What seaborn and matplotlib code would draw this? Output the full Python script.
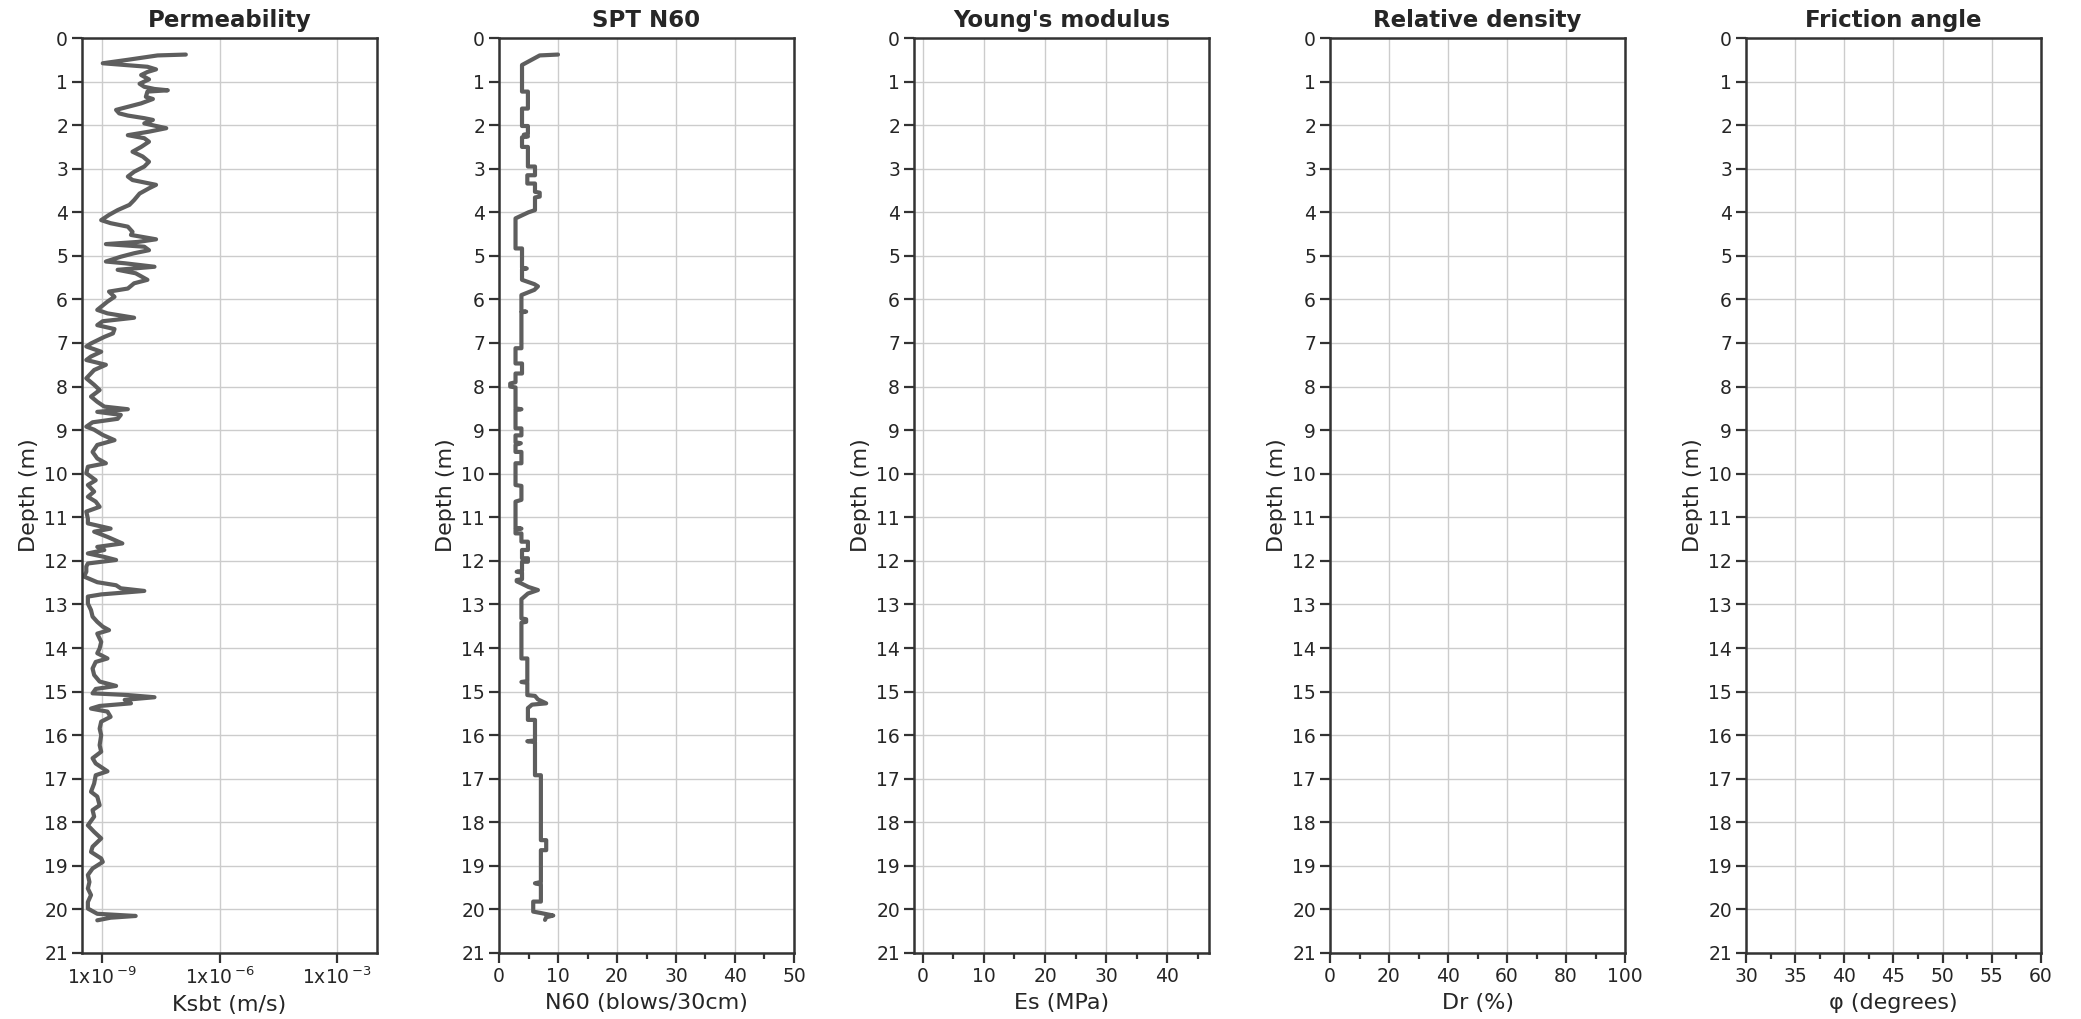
import numpy as np
import pandas as pd
import matplotlib
matplotlib.use("Agg")
import matplotlib.pyplot as plt
import seaborn as sns
from matplotlib.ticker import FixedLocator, NullLocator, MultipleLocator

# ---------------- data ----------------
perm_depth = [0.38, 0.40, 0.50, 0.58, 0.62, 0.66, 0.72, 0.78, 0.85, 0.95, 1.05, 1.12, 1.17, 1.20, 1.23,
              1.35, 1.40, 1.50, 1.65, 1.73, 1.78, 1.84, 1.88, 1.96, 2.07, 2.15, 2.23, 2.30, 2.38, 2.50,
              2.61, 2.72, 2.84, 2.95, 3.07, 3.18, 3.26, 3.37, 3.45, 3.57, 3.72, 3.83, 3.95, 4.06, 4.18,
              4.25, 4.33, 4.45, 4.52, 4.62, 4.68, 4.73, 4.79, 4.87, 4.94, 5.02, 5.13, 5.17, 5.25, 5.32,
              5.40, 5.55, 5.63, 5.75, 5.82, 5.94, 6.05, 6.24, 6.32, 6.42, 6.50, 6.59, 6.68, 6.78, 6.86,
              7.01, 7.08, 7.20, 7.31, 7.39, 7.50, 7.62, 7.81, 7.96, 8.08, 8.23, 8.35, 8.46, 8.52, 8.58,
              8.65, 8.74, 8.82, 8.92, 8.99, 9.11, 9.23, 9.34, 9.50, 9.65, 9.76, 9.84, 9.99, 10.15, 10.26,
              10.41, 10.53, 10.64, 10.76, 10.87, 11.03, 11.14, 11.26, 11.33, 11.45, 11.52, 11.60, 11.68, 11.75, 11.83,
              11.91, 11.98, 12.06, 12.13, 12.25, 12.36, 12.49, 12.56, 12.63, 12.69, 12.72, 12.77, 12.82, 12.98, 13.13,
              13.28, 13.40, 13.51, 13.59, 13.67, 13.86, 14.01, 14.12, 14.24, 14.32, 14.47, 14.62, 14.77, 14.87, 14.94,
              15.04, 15.08, 15.13, 15.19, 15.27, 15.33, 15.39, 15.46, 15.58, 15.69, 15.85, 16.00, 16.23, 16.38, 16.53,
              16.65, 16.83, 16.92, 17.11, 17.30, 17.41, 17.61, 17.72, 17.87, 18.07, 18.22, 18.37, 18.56, 18.68, 18.83,
              18.91, 19.06, 19.21, 19.37, 19.52, 19.67, 19.83, 19.98, 20.10, 20.15, 20.19, 20.25]
perm_log10_ksbt = [-6.86, -7.58, -8.34, -8.98, -8.42, -7.84, -7.62, -7.84, -8.00, -7.80, -8.04, -7.92, -7.66, -7.32, -7.84,
                   -7.88, -7.70, -8.00, -8.64, -8.56, -8.34, -7.92, -7.70, -7.92, -7.36, -7.80, -8.34, -7.92, -7.80, -8.00,
                   -8.22, -7.96, -7.80, -7.92, -8.18, -8.34, -8.22, -7.62, -7.80, -8.04, -8.18, -8.30, -8.60, -8.82, -9.02,
                   -8.78, -8.34, -8.22, -8.26, -7.62, -8.08, -8.90, -7.92, -7.80, -8.18, -8.52, -8.90, -8.42, -7.66, -8.60,
                   -8.14, -7.84, -8.18, -8.34, -8.82, -8.68, -8.86, -9.12, -8.86, -8.18, -8.98, -9.12, -8.68, -8.72, -8.94,
                   -9.28, -9.40, -9.02, -9.28, -9.40, -8.90, -9.20, -9.40, -9.20, -9.06, -9.28, -9.12, -8.94, -8.34, -9.12,
                   -8.52, -8.60, -9.24, -9.40, -9.20, -8.98, -8.68, -9.12, -9.24, -9.12, -8.90, -9.36, -9.40, -9.16, -9.36,
                   -9.20, -9.36, -9.16, -9.06, -9.40, -9.36, -9.36, -8.78, -9.20, -8.86, -8.68, -8.48, -9.12, -8.94, -9.36,
                   -8.94, -8.64, -9.36, -9.40, -9.40, -9.46, -9.12, -8.64, -8.52, -7.92, -8.34, -9.02, -9.36, -9.36, -9.28,
                   -9.24, -9.12, -8.98, -8.82, -9.12, -9.02, -9.06, -9.12, -8.86, -9.16, -9.24, -9.20, -9.06, -8.64, -9.16,
                   -9.24, -8.34, -7.66, -8.42, -8.26, -9.06, -9.28, -8.86, -8.78, -9.02, -9.06, -9.02, -9.06, -9.02, -9.24,
                   -9.16, -8.86, -9.16, -9.20, -9.28, -9.12, -9.06, -9.24, -9.20, -9.36, -9.20, -9.02, -9.24, -9.28, -9.02,
                   -8.98, -9.24, -9.36, -9.32, -9.36, -9.28, -9.36, -9.36, -9.12, -8.14, -8.78, -9.12]

spt_depth = [0.38, 0.40, 0.62, 1.23, 1.23, 1.62, 1.62, 2.02, 2.02, 2.20, 2.22, 2.26, 2.28, 2.50, 2.50,
             2.95, 2.95, 3.15, 3.15, 3.34, 3.34, 3.53, 3.55, 3.64, 3.66, 3.95, 4.00, 4.14, 4.83, 4.83,
             5.27, 5.29, 5.31, 5.55, 5.65, 5.70, 5.78, 5.85, 5.90, 6.27, 6.28, 6.30, 7.12, 7.12, 7.47,
             7.47, 7.70, 7.70, 7.90, 7.93, 8.00, 8.02, 8.50, 8.52, 8.54, 8.96, 8.96, 9.12, 9.12, 9.28,
             9.30, 9.34, 9.50, 9.50, 9.76, 9.76, 10.26, 10.28, 10.60, 10.64, 11.24, 11.26, 11.28, 11.37, 11.37,
             11.56, 11.56, 11.75, 11.75, 11.94, 11.94, 12.02, 12.02, 12.23, 12.25, 12.27, 12.42, 12.44, 12.47, 12.52,
             12.60, 12.67, 12.75, 12.88, 13.32, 13.34, 13.40, 13.42, 14.24, 14.24, 14.76, 14.78, 14.80, 15.08, 15.10,
             15.18, 15.27, 15.30, 15.38, 15.65, 15.65, 16.12, 16.14, 16.16, 16.92, 16.92, 18.41, 18.41, 18.64, 18.64,
             19.37, 19.40, 19.43, 19.82, 19.82, 20.05, 20.08, 20.14, 20.18, 20.24]
spt_n60 = [10.0, 6.9, 3.9, 3.9, 4.9, 4.9, 3.9, 3.9, 4.9, 4.9, 4.2, 4.9, 3.9, 3.9, 4.9,
           4.9, 6.1, 6.1, 4.8, 4.8, 6.1, 6.1, 6.9, 6.9, 6.1, 6.1, 5.0, 2.8, 2.8, 3.9,
           3.9, 4.7, 3.9, 3.9, 6.0, 6.6, 6.0, 4.7, 3.8, 3.8, 4.6, 3.8, 3.8, 2.8, 2.8,
           3.9, 3.9, 2.8, 2.8, 1.9, 1.9, 2.8, 2.8, 3.8, 2.8, 2.8, 3.8, 3.8, 2.8, 2.8,
           3.7, 2.8, 2.8, 3.8, 3.8, 2.8, 2.8, 3.8, 3.8, 2.8, 2.8, 3.8, 2.8, 2.8, 3.8,
           3.8, 4.9, 4.9, 3.9, 3.9, 4.9, 4.9, 3.9, 3.9, 3.0, 3.9, 3.9, 3.0, 3.0, 3.8,
           5.0, 6.6, 4.9, 3.8, 3.8, 4.6, 4.6, 3.8, 3.8, 4.8, 4.8, 3.8, 4.8, 4.8, 6.1,
           6.6, 8.0, 5.6, 4.9, 4.9, 6.1, 6.1, 4.8, 6.1, 6.1, 7.1, 7.1, 8.0, 8.0, 7.1,
           7.1, 6.1, 7.1, 7.1, 5.8, 5.8, 7.0, 9.2, 8.0, 7.8]

titles = ["Permeability", "SPT N60", "Young's modulus", "Relative density", "Friction angle"]
xlabels = ["Ksbt (m/s)", "N60 (blows/30cm)", "Es (MPa)", "Dr (%)", "φ (degrees)"]
depth_ticks = list(range(0, 22))
perm_ticks = [1e-9, 1e-6, 1e-3]
perm_ticklabels = [r"$\mathregular{1x10}^{\,\mathregular{-9}}$",
                   r"$\mathregular{1x10}^{\,\mathregular{-6}}$",
                   r"$\mathregular{1x10}^{\,\mathregular{-3}}$"]

# ---------------- style ----------------
sns.set_style("white")
plt.rcParams["font.family"] = ["DejaVu Sans"]
plt.rcParams["mathtext.fontset"] = "dejavusans"

LINE = "#5e5e5e"
SPINE = "#333333"
GRID = "#cccccc"

W, H = 2081, 1019
fig = plt.figure(figsize=(W / 100, H / 100), dpi=100)
lefts = [82, 499, 914, 1330, 1746]
pw, top, bottom = 295, 38, 953
axes = [fig.add_axes([l / W, (H - bottom) / H, pw / W, (bottom - top) / H]) for l in lefts]

perm_df = pd.DataFrame({"depth": perm_depth, "ksbt": 10.0 ** np.array(perm_log10_ksbt)})
spt_df = pd.DataFrame({"depth": spt_depth, "n60": spt_n60})

ax = axes[0]
ax.set_xscale("log")
sns.lineplot(data=perm_df, x="ksbt", y="depth", sort=False, estimator=None,
             color=LINE, lw=3.0, ax=ax)
ax.set_xlim(10 ** -9.51, 10 ** -1.98)
ax.xaxis.set_major_locator(FixedLocator(perm_ticks))
ax.set_xticklabels(perm_ticklabels)
ax.xaxis.set_minor_locator(NullLocator())

ax = axes[1]
sns.lineplot(data=spt_df, x="n60", y="depth", sort=False, estimator=None,
             color=LINE, lw=3.0, ax=ax)
ax.set_xlim(0, 50)
ax.xaxis.set_major_locator(MultipleLocator(10))
ax.xaxis.set_minor_locator(MultipleLocator(5))

ax = axes[2]
ax.set_xlim(-1.42, 46.8)
ax.xaxis.set_major_locator(MultipleLocator(10))
ax.xaxis.set_minor_locator(MultipleLocator(5))

ax = axes[3]
ax.set_xlim(0, 100)
ax.xaxis.set_major_locator(MultipleLocator(20))
ax.xaxis.set_minor_locator(MultipleLocator(10))

ax = axes[4]
ax.set_xlim(30, 60)
ax.xaxis.set_major_locator(MultipleLocator(5))
ax.xaxis.set_minor_locator(MultipleLocator(2.5))

for ax, t, xl in zip(axes, titles, xlabels):
    ax.set_ylim(21, 0)
    ax.set_yticks(depth_ticks)
    ax.set_title(t, fontsize=16.5, fontweight="bold", pad=8)
    ax.set_xlabel(xl, fontsize=16, labelpad=5)
    ax.set_ylabel("Depth (m)", fontsize=16, labelpad=4)
    ax.grid(True, which="major", color=GRID, lw=1.0)
    ax.set_axisbelow(True)
    for s in ax.spines.values():
        s.set_color(SPINE)
        s.set_linewidth(1.8)
        s.set_visible(True)
    ax.tick_params(axis="both", which="major", direction="out", length=7, width=1.6,
                   color=SPINE, labelsize=13.5, pad=3)
    ax.tick_params(axis="x", which="minor", direction="out", length=4, width=1.6, color=SPINE)
    ax.tick_params(bottom=True, left=True)
    ax.tick_params(axis="x", which="minor", bottom=True)

fig.savefig("out.png", dpi=100, facecolor="white")
